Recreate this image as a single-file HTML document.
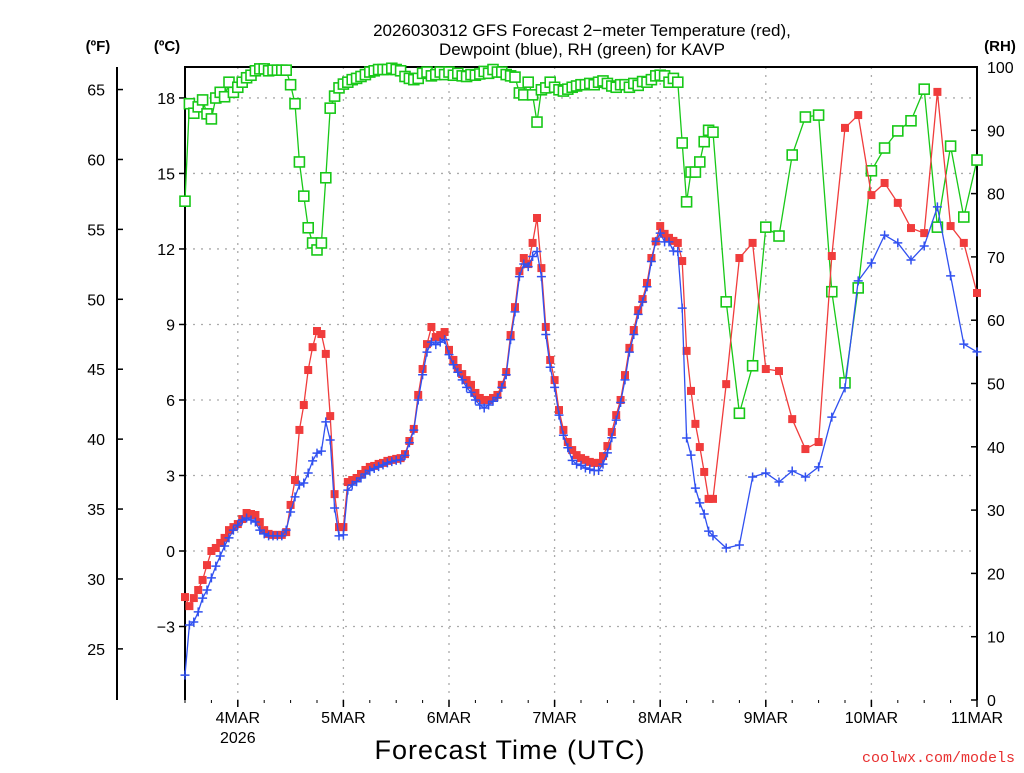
<!DOCTYPE html>
<html><head><meta charset="utf-8"><style>
body{margin:0;background:#fff;width:1024px;height:768px;overflow:hidden;font-family:"Liberation Sans",sans-serif}
</style></head><body>
<svg id="chart" width="1024" height="768" xmlns="http://www.w3.org/2000/svg" font-family="Liberation Sans, sans-serif">
<text x="582" y="36" text-anchor="middle" font-size="17">2026030312 GFS Forecast 2−meter Temperature (red),</text>
<text x="582" y="55" text-anchor="middle" font-size="17">Dewpoint (blue), RH (green) for KAVP</text>
<text x="98" y="51" text-anchor="middle" font-size="15" font-weight="bold">(ºF)</text>
<text x="167" y="51" text-anchor="middle" font-size="15" font-weight="bold">(ºC)</text>
<text x="1000" y="51" text-anchor="middle" font-size="15" font-weight="bold">(RH)</text>
<text x="510" y="759" text-anchor="middle" font-size="27" letter-spacing="1">Forecast Time (UTC)</text>
<text x="1015" y="762" text-anchor="end" font-size="15" fill="#e83030" font-family="Liberation Mono, monospace">coolwx.com/models</text>
<g id="grid"></g><g id="axes"></g><g id="series"></g>
</svg>
<script>
const hoursHourly = []; for (let h = 0; h <= 120; h++) hoursHourly.push(h);
const hours3 = []; for (let h = 123; h <= 180; h += 3) hours3.push(h);
const hours = hoursHourly.concat(hours3);
const tempC = [-1.83,-2.19,-1.87,-1.55,-1.15,-0.56,0,0.12,0.32,0.52,0.83,0.95,1.07,1.27,1.51,1.47,1.43,1.15,0.83,0.68,0.64,0.64,0.64,0.75,1.83,2.82,4.81,5.8,7.19,8.1,8.74,8.62,7.83,5.36,2.26,0.95,0.95,2.74,2.82,2.9,3.06,3.22,3.34,3.38,3.46,3.5,3.58,3.62,3.66,3.69,3.85,4.37,4.85,6.2,7.23,8.22,8.9,8.5,8.58,8.7,7.99,7.59,7.27,7.03,6.79,6.6,6.28,6.08,6.0,6.0,6.08,6.2,6.6,7.11,8.58,9.69,11.12,11.64,11.4,12.24,13.23,11.24,8.9,7.59,6.79,5.6,4.81,4.33,4.01,3.81,3.69,3.62,3.54,3.5,3.5,3.77,4.17,4.73,5.4,6.0,6.99,8.07,8.78,9.57,10.01,10.65,11.64,12.3,12.91,12.6,12.44,12.32,12.24,11.52,7.95,6.36,5.05,4.13,3.14,2.07,2.07,
6.63,11.64,12.24,7.23,7.15,5.24,4.05,4.33,11.72,16.81,17.32,14.14,14.62,13.83,12.83,12.63,18.24,12.91,12.24,10.25];
const dewC = [-4.93,-2.94,-2.82,-2.42,-1.87,-1.55,-1.07,-0.6,-0.2,0.2,0.52,0.83,1.03,1.23,1.31,1.23,1.15,0.83,0.68,0.6,0.6,0.6,0.6,0.83,1.55,2.15,2.62,2.7,3.1,3.58,3.89,3.97,5.13,4.41,1.71,0.6,0.64,2.42,2.62,2.75,2.9,3.06,3.2,3.28,3.35,3.42,3.5,3.55,3.6,3.62,3.8,4.3,4.8,6.0,7.0,7.9,8.3,8.2,8.3,8.4,7.8,7.4,7.1,6.8,6.5,6.3,6.0,5.8,5.68,5.8,5.95,6.1,6.5,7.0,8.4,9.5,10.9,11.4,11.3,11.7,11.9,10.9,8.6,7.3,6.5,5.4,4.6,4.1,3.6,3.45,3.4,3.3,3.25,3.2,3.2,3.45,3.9,4.5,5.2,5.9,6.8,7.9,8.6,9.4,9.9,10.5,11.5,12.3,12.63,12.28,12.28,11.92,11.9,9.65,4.49,3.81,2.5,1.91,1.47,0.79,0.6,
0.12,0.24,2.94,3.1,2.74,3.18,2.94,3.34,5.32,6.48,10.73,11.44,12.55,12.24,11.56,12.12,13.67,10.93,8.22,7.91];
const rhPct = [78.8,94.2,92.7,93.7,94.8,92.6,91.8,95.1,96,95.3,97.6,96,96.8,97.6,98.3,98.7,99.4,99.7,99.7,99.4,99.5,99.5,99.5,99.5,97.2,94.2,85,79.6,74.6,72.2,71.1,72.2,82.5,93.5,95.4,96.7,97.3,97.6,98,98.2,98.5,98.8,99.2,99.4,99.6,99.6,99.6,99.8,99.6,99.4,98.5,98.2,98,98.2,99,99.2,98.6,98.8,99.2,98.8,99.2,98.7,99,98.6,98.5,98.8,98.7,98.9,99.3,99,99.6,99.2,99.2,98.8,98.6,98.4,95.9,95.6,97.6,95.6,91.3,96.4,96.7,97.6,96.8,96.4,96.2,96.5,96.8,97,97.2,97.2,97.4,97.2,97.6,97.8,97.4,97,96.8,97.2,97.2,96.8,97.4,97.1,97.7,97.6,98,98.6,98.7,98.6,97.6,98.2,97.6,88,78.7,83.4,83.4,85,88.2,90,89.7,
62.9,45.3,52.8,74.7,73.3,86.1,92.1,92.4,64.5,50.1,65.1,83.6,87.2,89.9,91.5,96.5,74.7,87.5,76.3,85.3];
const dayLabels = ["4MAR","5MAR","6MAR","7MAR","8MAR","9MAR","10MAR","11MAR"];
const dayHours = [12,36,60,84,108,132,156,180];
const cTicks = [-3,0,3,6,9,12,15,18];
const fTicks = [25,30,35,40,45,50,55,60,65];
const rhTicks = [0,10,20,30,40,50,60,70,80,90,100];

const L=185,R=977,T=67,B=700;
const xS = h => L + h*(R-L)/180;
const yC = c => 551 - c*25.17;
const yF = f => yC((f-32)*5/9);
const yRH = r => B - r*(B-T)/100;
const NS="http://www.w3.org/2000/svg";
function mk(tag, parent, attrs){const e=document.createElementNS(NS,tag);for(const k in attrs)e.setAttribute(k,attrs[k]);parent.appendChild(e);return e;}
const grid=document.getElementById('grid'), axes=document.getElementById('axes'), ser=document.getElementById('series');

cTicks.forEach(c=>{
  const g=mk('line',grid,{x1:L,x2:R,y1:yC(c),y2:yC(c),stroke:'#aaa','stroke-dasharray':'2,6','stroke-width':1.3});
  
  
  const t=mk('line',axes,{x1:L-6,x2:L,y1:yC(c),y2:yC(c),stroke:'#000','stroke-width':1.5});
  
  
  const lb=mk('text',axes,{x:175,y:yC(c)+6,'text-anchor':'end','font-size':16});
  lb.textContent=(c<0?'−'+Math.abs(c):c);
  
  
});
fTicks.forEach(f=>{
  const t=mk('line',axes,{x1:117,x2:123,y1:yF(f),y2:yF(f),stroke:'#000','stroke-width':1.5});
  
  
  const lb=mk('text',axes,{x:105,y:yF(f)+6,'text-anchor':'end','font-size':16});
  lb.textContent=f;
  
  
});
rhTicks.forEach(r=>{
  const t=mk('line',axes,{x1:R-6,x2:R,y1:yRH(r),y2:yRH(r),stroke:'#000','stroke-width':1.5});
  
  
  const lb=mk('text',axes,{x:987,y:yRH(r)+6,'font-size':16});
  lb.textContent=r;
  
  
});
dayHours.forEach((h,i)=>{
  if(h<180){const g=mk('line',grid,{x1:xS(h),x2:xS(h),y1:T,y2:B,stroke:'#aaa','stroke-dasharray':'2,6','stroke-width':1.3});
  
  }
  const t=mk('line',axes,{x1:xS(h),x2:xS(h),y1:B,y2:B+7,stroke:'#000','stroke-width':1.5});
  
  
  const lb=mk('text',axes,{x:xS(h),y:723,'text-anchor':'middle','font-size':16});
  lb.textContent=dayLabels[i];
  
  
});
for(let h=0;h<=180;h+=6){const t=mk('line',axes,{x1:xS(h),x2:xS(h),y1:B,y2:B+3,stroke:'#000'});
  
  }
const yr=mk('text',axes,{x:xS(12),y:743,'text-anchor':'middle','font-size':16}); yr.textContent='2026';


const frame=mk('path',axes,{d:`M${L},${B} V${T} H${R} V${B}`,fill:'none',stroke:'#000','stroke-width':2});


const fax=mk('line',axes,{x1:117,x2:117,y1:T,y2:B,stroke:'#000','stroke-width':2});



function series(vals, yf, color, name, marker){
  const pts=vals.map((v,i)=>[xS(hours[i]),yf(v)]);
  const pl=mk('polyline',ser,{points:pts.map(p=>p.join(',')).join(' '),fill:'none',stroke:color,'stroke-width':1.3});
  
  
  pts.forEach(p=>{
    let m;
    if(marker==='fill') m=mk('rect',ser,{x:p[0]-4,y:p[1]-4,width:8,height:8,fill:color});
    else if(marker==='hollow') m=mk('rect',ser,{x:p[0]-5,y:p[1]-5,width:10,height:10,fill:'#fff',stroke:color,'stroke-width':1.6});
    else m=mk('path',ser,{d:`M${p[0]-4.5},${p[1]}H${p[0]+4.5}M${p[0]},${p[1]-4.5}V${p[1]+4.5}`,stroke:color,'stroke-width':1.5});
    
    
  });
}
series(rhPct,yRH,'#18c818','rh','hollow');
series(tempC,yC,'#f03c3c','temperature','fill');
series(dewC,yC,'#3050f0','dewpoint','plus');
</script>
</body></html>
